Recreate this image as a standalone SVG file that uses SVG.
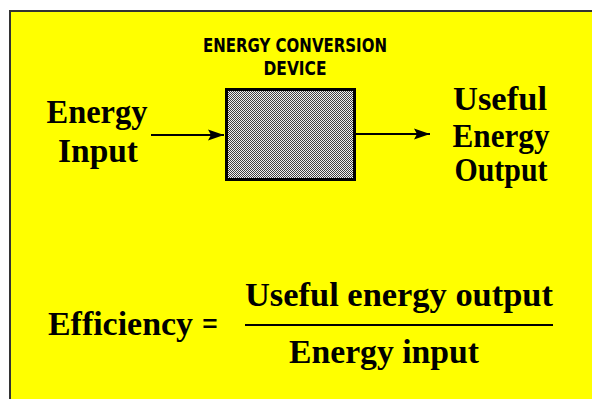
<svg xmlns="http://www.w3.org/2000/svg" width="592" height="399" viewBox="0 0 592 399">
<style>
.big{font-family:"Liberation Serif","Times New Roman",serif;font-weight:bold;font-size:33px;fill:#000}
.cap{font-family:"Liberation Sans Narrow","DejaVu Sans Condensed","Liberation Sans",sans-serif;font-weight:bold;font-size:19px;fill:#000}
.conn{stroke:#000;stroke-width:2;fill:none}
</style>
<defs>
<pattern id="chk" width="2" height="2" patternUnits="userSpaceOnUse">
<rect width="2" height="2" fill="#f0f0f0"/>
<rect width="1" height="1" fill="#404040"/>
<rect x="1" y="1" width="1" height="1" fill="#404040"/>
</pattern>
<marker id="ah" markerWidth="17" markerHeight="13" refX="16" refY="6.5" orient="auto" markerUnits="userSpaceOnUse">
<path d="M0,1 L16,6.5 L0,12 L3,6.5 Z" fill="#000"/>
</marker>
</defs>
<rect x="0" y="0" width="592" height="399" fill="#fff"/>
<rect x="10" y="11" width="600" height="400" fill="#ffff00" stroke="#333" stroke-width="2"/>
<g id="device">
<rect x="226.5" y="89.5" width="128" height="90" fill="url(#chk)" stroke="#000" stroke-width="3"/>
<text class="cap" x="295" y="52" text-anchor="middle" textLength="184" lengthAdjust="spacingAndGlyphs">ENERGY CONVERSION</text>
<text class="cap" x="295" y="75" text-anchor="middle" textLength="63" lengthAdjust="spacingAndGlyphs">DEVICE</text>
</g>
<g id="input">
<text class="big" x="97" y="123" text-anchor="middle" textLength="101" lengthAdjust="spacingAndGlyphs">Energy</text>
<text class="big" x="98" y="162" text-anchor="middle" textLength="80" lengthAdjust="spacingAndGlyphs">Input</text>
</g>
<g id="output">
<text class="big" x="500" y="110" text-anchor="middle" textLength="94" lengthAdjust="spacingAndGlyphs">Useful</text>
<text class="big" x="501" y="147" text-anchor="middle" textLength="97" lengthAdjust="spacingAndGlyphs">Energy</text>
<text class="big" x="501" y="181" text-anchor="middle" textLength="93" lengthAdjust="spacingAndGlyphs">Output</text>
</g>
<g id="connectors">
<line class="conn" x1="151" y1="135" x2="224" y2="135" marker-end="url(#ah)"/>
<line class="conn" x1="356" y1="134" x2="430" y2="134" marker-end="url(#ah)"/>
</g>
<g id="formula">
<text class="big" x="48" y="335" textLength="145" lengthAdjust="spacingAndGlyphs">Efficiency</text>
<text class="big" x="202" y="335" textLength="16" lengthAdjust="spacingAndGlyphs">=</text>
<text class="big" x="245" y="306" textLength="308" lengthAdjust="spacingAndGlyphs">Useful energy output</text>
<line x1="245" y1="325" x2="553" y2="325" stroke="#000" stroke-width="2"/>
<text class="big" x="289" y="363" textLength="190" lengthAdjust="spacingAndGlyphs">Energy input</text>
</g>
</svg>
